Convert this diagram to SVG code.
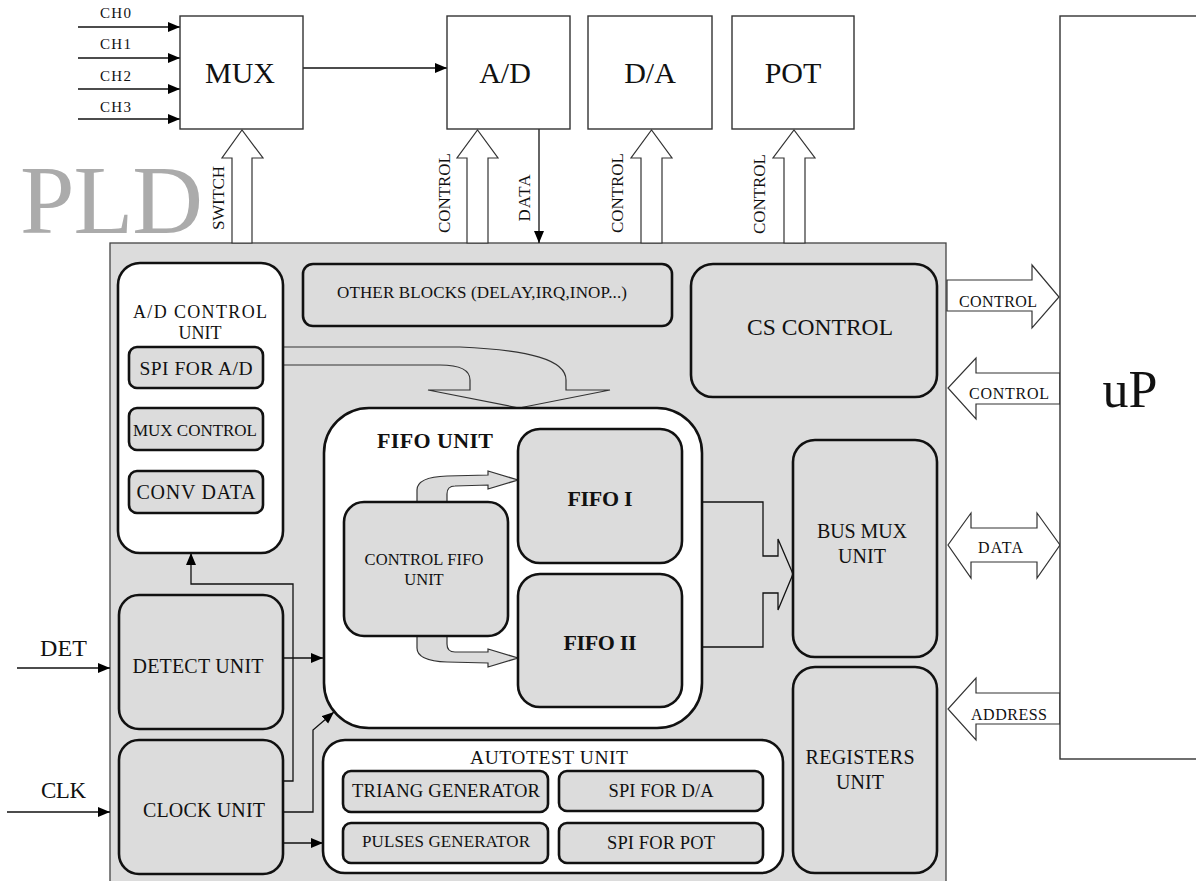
<svg xmlns="http://www.w3.org/2000/svg" width="1196" height="881" viewBox="0 0 1196 881" font-family="'Liberation Serif','Times New Roman',serif">
<defs>
<marker id="ah" markerUnits="userSpaceOnUse" markerWidth="13" markerHeight="11" refX="12" refY="5" orient="auto"><path d="M0,0 L12,5 L0,10 Z" fill="#000"/></marker>
<style>
text{font-family:"Liberation Serif","Times New Roman",serif;fill:#111}
.c{text-anchor:middle}
.box{fill:#fff;stroke:#333;stroke-width:1.4}
.gr{fill:#dcdcdc;stroke:#111;stroke-width:2.6}
.wh{fill:#fff;stroke:#111;stroke-width:2.6}
.ln{fill:none;stroke:#111;stroke-width:1.3}
.arr{fill:none;stroke:#111;stroke-width:1.3;marker-end:url(#ah)}
.hol{fill:#fff;stroke:#333;stroke-width:1.2}
.holg{fill:#dcdcdc;stroke:#333;stroke-width:1.2}
.s17{font-size:17px}
.b{font-weight:bold}
</style>
</defs>
<rect width="1196" height="881" fill="#fff"/>

<text id="pld-label" x="20" y="233" font-size="98" style="fill:#ababab" textLength="183">PLD</text>

<g id="pld">
<rect x="110" y="243" width="836" height="650" fill="#dcdcdc" stroke="#444" stroke-width="1.3"/>
</g>

<g id="connectors">
<line class="arr" x1="78" y1="27" x2="180" y2="27"/>
<line class="arr" x1="78" y1="58" x2="180" y2="58"/>
<line class="arr" x1="78" y1="89" x2="180" y2="89"/>
<line class="arr" x1="78" y1="119" x2="180" y2="119"/>
<line class="arr" x1="303" y1="68" x2="447" y2="68"/>
<line class="arr" x1="539" y1="129" x2="539" y2="243"/>
<line class="arr" x1="17" y1="668" x2="110" y2="668"/>
<line class="arr" x1="7" y1="812" x2="110" y2="812"/>
<line class="arr" x1="283" y1="658" x2="323" y2="658"/>
<polyline class="arr" points="283,781 293,781 293,584 191,584 191,553"/>
<polyline class="arr" points="283,812 313,812 313,730 334,712"/>
<line class="arr" x1="283" y1="843" x2="323" y2="843"/>
<polyline class="ln" points="702,502 763,502 763,556 778,556 778,539 793,574"/>
<polyline class="ln" points="702,647 763,647 763,593 778,593 778,610 793,574"/>
<polygon class="hol" points="232,243 232,158 222,158 242,130 263,158 252,158 252,243"/>
<polygon class="hol" points="467,243 467,158 457,158 477.5,130 498,158 488,158 488,243"/>
<polygon class="hol" points="641,243 641,158 631,158 651.5,130 672,158 662,158 662,243"/>
<polygon class="hol" points="784,243 784,158 773,158 794,130 815,158 805,158 805,243"/>
<polygon class="hol" points="947,280 1032,280 1032,265 1059,297 1032,328 1032,311 947,311"/>
<polygon class="hol" points="1060,373 976,373 976,358 948,388 976,419 976,404 1060,404"/>
<polygon class="hol" points="971,528 1037,528 1037,513 1060,545 1037,578 1037,562 971,562 971,578 948,545 971,513"/>
<polygon class="hol" points="1060,693 976,693 976,678 948,709 976,740 976,724 1060,724"/>
<path class="holg" d="M283,347 L460,347 C530,350 566,360 566,380 L566,390 L610,390 L519,408 L428,390 L470,390 L470,380 C470,370 460,365 440,365 L283,365 Z"/>
</g>

<text x="0" y="0" class="s17" transform="translate(224,198) rotate(-90)" text-anchor="middle" textLength="64">SWITCH</text>
<text x="0" y="0" class="s17" transform="translate(450,193) rotate(-90)" text-anchor="middle" textLength="80">CONTROL</text>
<text x="0" y="0" class="s17" transform="translate(530,198) rotate(-90)" text-anchor="middle" textLength="47">DATA</text>
<text x="0" y="0" class="s17" transform="translate(623,193) rotate(-90)" text-anchor="middle" textLength="80">CONTROL</text>
<text x="0" y="0" class="s17" transform="translate(765,194) rotate(-90)" text-anchor="middle" textLength="80">CONTROL</text>

<text x="959" y="307" font-size="16" textLength="78">CONTROL</text>
<text x="969" y="399" font-size="16" textLength="80">CONTROL</text>
<text x="978" y="553" font-size="16" textLength="45">DATA</text>
<text x="971" y="720" font-size="16" textLength="76">ADDRESS</text>

<text x="100" y="18" font-size="15" textLength="31">CH0</text>
<text x="100" y="49" font-size="15" textLength="31">CH1</text>
<text x="100" y="81" font-size="15" textLength="31">CH2</text>
<text x="100" y="112" font-size="15" textLength="31">CH3</text>
<text x="40" y="656" font-size="24" textLength="47">DET</text>
<text x="41" y="798" font-size="23" textLength="45">CLK</text>

<g id="mux"><rect class="box" x="180" y="16" width="123" height="113"/><text class="c" x="240" y="83" font-size="30">MUX</text></g>
<g id="ad"><rect class="box" x="447" y="16" width="123" height="113"/><text class="c" x="505" y="83" font-size="30">A/D</text></g>
<g id="da"><rect class="box" x="588" y="16" width="124" height="113"/><text class="c" x="650" y="83" font-size="30">D/A</text></g>
<g id="pot"><rect class="box" x="732" y="16" width="122" height="113"/><text class="c" x="793" y="83" font-size="30">POT</text></g>
<g id="up"><rect class="box" x="1060" y="16" width="150" height="743"/><text class="c" x="1130" y="407" font-size="52">uP</text></g>

<g id="ad-control-unit">
<rect class="wh" x="118" y="263" width="165" height="290" rx="22"/>
<text class="c" x="200" y="318" font-size="18" textLength="134">A/D CONTROL</text>
<text class="c" x="200" y="339" font-size="18">UNIT</text>
</g>
<g id="spi-ad"><rect class="gr" x="129" y="347" width="134" height="41" rx="8"/><text class="c" x="196" y="375" font-size="19.5" textLength="113">SPI FOR A/D</text></g>
<g id="mux-control"><rect class="gr" x="129" y="408" width="134" height="42" rx="8"/><text class="c" x="195" y="436" font-size="17" textLength="124">MUX CONTROL</text></g>
<g id="conv-data"><rect class="gr" x="129" y="471" width="134" height="42" rx="8"/><text class="c" x="196" y="499" font-size="20" textLength="119">CONV DATA</text></g>

<g id="other-blocks"><rect class="gr" x="303" y="264" width="369" height="62" rx="10"/><text class="c" x="482" y="298" font-size="17" textLength="290">OTHER BLOCKS (DELAY,IRQ,INOP...)</text></g>
<g id="cs-control"><rect class="gr" x="691" y="264" width="246" height="133" rx="22"/><text class="c" x="820" y="335" font-size="23.5" textLength="146">CS CONTROL</text></g>

<g id="fifo-unit">
<rect class="wh" x="324" y="408" width="378" height="320" rx="45"/>
<text x="377" y="448" font-size="22" class="b" textLength="116">FIFO UNIT</text>
</g>
<path class="holg" d="M417,502 L417,490 Q417,477 447,476 L488,475 L488,471 L518,480 L488,489 L488,485 L455,486 Q447,486 447,494 L447,502 Z"/>
<path class="holg" d="M417,636 L417,648 Q417,661 447,662 L488,663 L488,667 L518,658 L488,649 L488,652 L455,652 Q447,652 447,644 L447,636 Z"/>
<g id="control-fifo"><rect class="gr" x="344" y="502" width="164" height="134" rx="20"/><text class="c" x="424" y="565" font-size="16.5" textLength="119">CONTROL FIFO</text><text class="c" x="424" y="585" font-size="16.5">UNIT</text></g>
<g id="fifo-1"><rect class="gr" x="518" y="429" width="164" height="134" rx="22"/><text class="c b" x="600" y="506" font-size="22" textLength="65">FIFO I</text></g>
<g id="fifo-2"><rect class="gr" x="518" y="574" width="164" height="133" rx="22"/><text class="c b" x="600" y="650" font-size="22" textLength="73">FIFO II</text></g>

<g id="bus-mux"><rect class="gr" x="793" y="440" width="144" height="217" rx="22"/><text class="c" x="862" y="538" font-size="20" textLength="90">BUS MUX</text><text class="c" x="862" y="563" font-size="20">UNIT</text></g>
<g id="registers"><rect class="gr" x="793" y="667" width="144" height="206" rx="22"/><text class="c" x="860" y="764" font-size="20" textLength="109">REGISTERS</text><text class="c" x="860" y="789" font-size="20">UNIT</text></g>

<g id="detect-unit"><rect class="gr" x="119" y="595" width="164" height="134" rx="20"/><text class="c" x="198" y="673" font-size="20" textLength="131">DETECT UNIT</text></g>
<g id="clock-unit"><rect class="gr" x="119" y="740" width="164" height="134" rx="20"/><text class="c" x="204" y="817" font-size="20" textLength="122">CLOCK UNIT</text></g>

<g id="autotest-unit">
<rect class="wh" x="323" y="740" width="460" height="133" rx="22"/>
<text class="c" x="549" y="764" font-size="19.5" textLength="158">AUTOTEST UNIT</text>
</g>
<g id="triang"><rect class="gr" x="343" y="771" width="205" height="41" rx="8"/><text class="c" x="446" y="797" font-size="18.6" textLength="188">TRIANG GENERATOR</text></g>
<g id="pulses"><rect class="gr" x="343" y="823" width="205" height="40" rx="8"/><text class="c" x="446" y="847" font-size="17" textLength="168">PULSES GENERATOR</text></g>
<g id="spi-da"><rect class="gr" x="559" y="771" width="204" height="40" rx="8"/><text class="c" x="661" y="797" font-size="18.5" textLength="105">SPI FOR D/A</text></g>
<g id="spi-pot"><rect class="gr" x="559" y="823" width="204" height="40" rx="8"/><text class="c" x="661" y="849" font-size="18.5" textLength="108">SPI FOR POT</text></g>
</svg>
